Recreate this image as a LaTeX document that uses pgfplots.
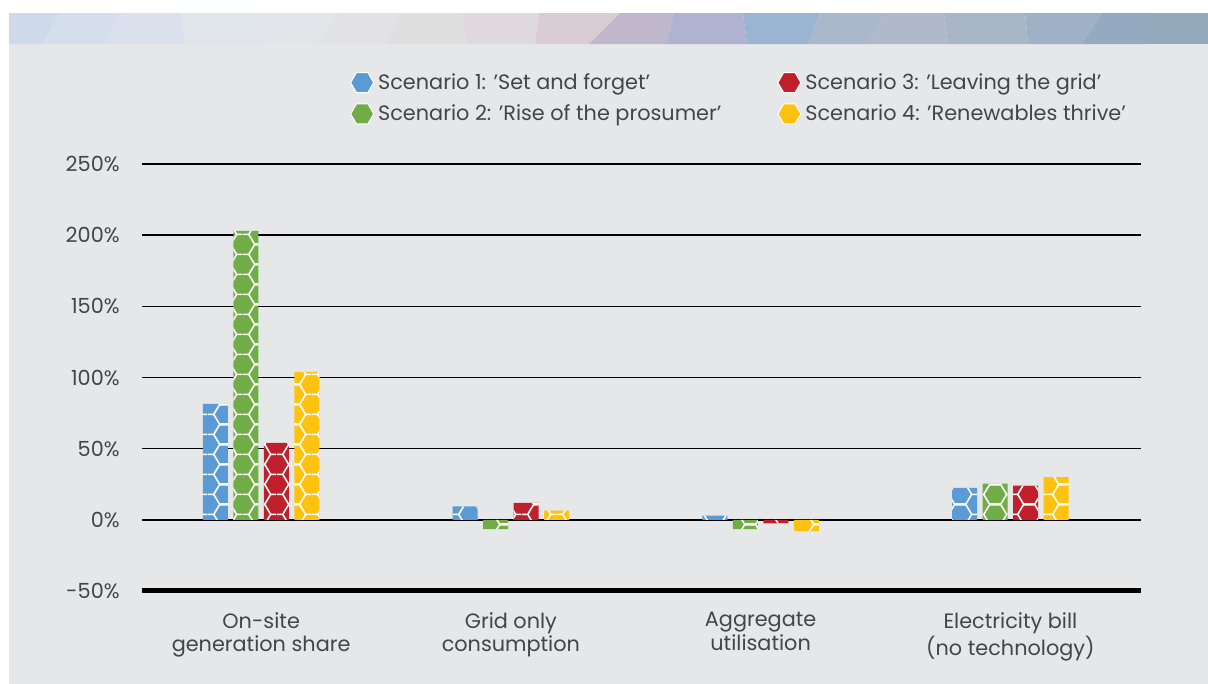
\documentclass[border=0pt]{standalone}
\usepackage{pgfplots}
\pgfplotsset{compat=1.18}
\usepackage{fontspec}
\setmainfont{Poppins}
\usetikzlibrary{patterns,shapes.geometric}
\definecolor{sOne}{HTML}{5B9BD5}
\definecolor{sTwo}{HTML}{70AD47}
\definecolor{sThree}{HTML}{C0202B}
\definecolor{sFour}{HTML}{FFC20E}
\definecolor{bggray}{HTML}{E6E7E9}
\definecolor{txt}{HTML}{454545}
\pgfdeclarepatternformonly{hexa}{\pgfpointorigin}{\pgfqpoint{17.4pt}{10.046pt}}{\pgfqpoint{17.4pt}{10.046pt}}{%
  \pgfsetlinewidth{0.8pt}%
  \pgfpathmoveto{\pgfqpoint{0pt}{5.023pt}}%
  \pgfpathlineto{\pgfqpoint{2.9pt}{5.023pt}}%
  \pgfpathlineto{\pgfqpoint{5.8pt}{0pt}}%
  \pgfpathlineto{\pgfqpoint{11.6pt}{0pt}}%
  \pgfpathlineto{\pgfqpoint{14.5pt}{5.023pt}}%
  \pgfpathlineto{\pgfqpoint{17.4pt}{5.023pt}}%
  \pgfpathmoveto{\pgfqpoint{2.9pt}{5.023pt}}%
  \pgfpathlineto{\pgfqpoint{5.8pt}{10.046pt}}%
  \pgfpathlineto{\pgfqpoint{11.6pt}{10.046pt}}%
  \pgfpathlineto{\pgfqpoint{14.5pt}{5.023pt}}%
  \pgfusepath{stroke}%
}
\newcommand{\hexleg}[1]{\addlegendimage{legend image code/.code={\path (0,0) (14bp,0); \node[regular polygon, regular polygon sides=6, fill=#1, draw=white, line width=0.5bp, minimum size=11.5bp, inner sep=0pt] at (5.75bp,0) {};}}}
\begin{document}
\begin{tikzpicture}
\useasboundingbox (0,0) rectangle (604bp,342bp);
\fill[white] (0,0) rectangle (604bp,342bp);
\begin{scope}[x=0.5bp,y=0.5bp]
\fill[bggray] (9,0) rectangle (1208,640);
\def\bt{640}\def\tp{671}
\fill[fill={rgb,255:red,206;green,217;blue,234}] (9,\bt) -- (42,\bt) -- (60,\tp) -- (9,\tp) -- cycle;
\fill[fill={rgb,255:red,213;green,222;blue,235}] (42,\bt) -- (104,\bt) -- (123,\tp) -- (60,\tp) -- cycle;
\fill[fill={rgb,255:red,219;green,225;blue,236}] (104,\bt) -- (185,\bt) -- (181,\tp) -- (123,\tp) -- cycle;
\fill[fill={rgb,255:red,224;green,228;blue,235}] (185,\bt) -- (266,\bt) -- (262,\tp) -- (181,\tp) -- cycle;
\fill[fill={rgb,255:red,227;green,229;blue,234}] (266,\bt) -- (316,\bt) -- (339,\tp) -- (262,\tp) -- cycle;
\fill[fill={rgb,255:red,226;green,226;blue,228}] (316,\bt) -- (385,\bt) -- (401,\tp) -- (339,\tp) -- cycle;
\fill[fill={rgb,255:red,224;green,223;blue,224}] (385,\bt) -- (466,\bt) -- (462,\tp) -- (401,\tp) -- cycle;
\fill[fill={rgb,255:red,223;green,217;blue,221}] (466,\bt) -- (535,\bt) -- (539,\tp) -- (462,\tp) -- cycle;
\fill[fill={rgb,255:red,217;green,204;blue,212}] (535,\bt) -- (589,\bt) -- (620,\tp) -- (539,\tp) -- cycle;
\fill[fill={rgb,255:red,193;green,183;blue,204}] (589,\bt) -- (666,\bt) -- (674,\tp) -- (620,\tp) -- cycle;
\fill[fill={rgb,255:red,176;green,178;blue,209}] (666,\bt) -- (747,\bt) -- (743,\tp) -- (674,\tp) -- cycle;
\fill[fill={rgb,255:red,154;green,181;blue,209}] (747,\bt) -- (809,\bt) -- (820,\tp) -- (743,\tp) -- cycle;
\fill[fill={rgb,255:red,171;green,184;blue,203}] (809,\bt) -- (867,\bt) -- (886,\tp) -- (820,\tp) -- cycle;
\fill[fill={rgb,255:red,175;green,185;blue,201}] (867,\bt) -- (948,\bt) -- (944,\tp) -- (886,\tp) -- cycle;
\fill[fill={rgb,255:red,169;green,182;blue,198}] (948,\bt) -- (1028,\bt) -- (1025,\tp) -- (944,\tp) -- cycle;
\fill[fill={rgb,255:red,158;green,177;blue,198}] (1028,\bt) -- (1082,\bt) -- (1102,\tp) -- (1025,\tp) -- cycle;
\fill[fill={rgb,255:red,148;green,170;blue,192}] (1082,\bt) -- (1148,\bt) -- (1148,\tp) -- (1102,\tp) -- cycle;
\fill[fill={rgb,255:red,149;green,169;blue,188}] (1148,\bt) -- (1208,\bt) -- (1208,\tp) -- (1148,\tp) -- cycle;
\end{scope}
\begin{axis}[
  at={(71bp,46.5bp)}, anchor=south west,
  scale only axis, width=499.5bp, height=213.5bp,
  xmin=-0.477, xmax=3.523, ymin=-50, ymax=250,
  ybar, bar width=0.1,
  axis line style={draw=none},
  ytick={-50,0,50,100,150,200,250},
  yticklabels={-50\%,0\%,50\%,100\%,150\%,200\%,250\%},
  xtick={0,1,2,3},
  xticklabels={On-site\\generation share, Grid only\\consumption, Aggregate\\utilisation, Electricity bill\\(no technology)},
  major tick length=0pt,
  tick style={draw=none},
  ymajorgrids, grid style={black, line width=0.75bp},
  yticklabel style={font=\fontsize{10.4bp}{12bp}\selectfont, text=txt, inner sep=0pt, xshift=-11bp},
  xticklabel style={font=\fontsize{10.4bp}{11.8bp}\selectfont, text=txt, inner sep=0pt, align=center, yshift=-10.5bp},
  legend columns=2,
  legend style={at={(axis description cs:0.196,1.223)}, anchor=north west, draw=none, fill=none,
     font=\fontsize{10.4bp}{12bp}\selectfont, text=txt, inner sep=0pt,
     /tikz/every even column/.append style={column sep=20bp},
     row sep=2.2bp},
  legend cell align=left,
  clip=false,
]
\addplot[bar shift=-0.183, fill=sOne, draw=none, postaction={pattern=hexa, pattern color=white}, forget plot]
  coordinates {(0,81.5) (1,9.5) (2,3) (3,22.5)};
\addplot[bar shift=-0.061, fill=sTwo, draw=none, postaction={pattern=hexa, pattern color=white}, forget plot]
  coordinates {(0,203) (1,-6.5) (2,-6.5) (3,25.5)};
\addplot[bar shift=0.061, fill=sThree, draw=none, postaction={pattern=hexa, pattern color=white}, forget plot]
  coordinates {(0,54) (1,12) (2,-2.5) (3,24)};
\addplot[bar shift=0.183, fill=sFour, draw=none, postaction={pattern=hexa, pattern color=white}, forget plot]
  coordinates {(0,104) (1,6.5) (2,-8) (3,30)};
\draw[black, line width=2.5bp] (rel axis cs:0,0) -- (rel axis cs:1,0);
\hexleg{sOne}
\addlegendentry{Scenario 1: 'Set and forget'}
\hexleg{sThree}
\addlegendentry{Scenario 3: 'Leaving the grid'}
\hexleg{sTwo}
\addlegendentry{Scenario 2: 'Rise of the prosumer'}
\hexleg{sFour}
\addlegendentry{Scenario 4: 'Renewables thrive'}
\end{axis}
\end{tikzpicture}
\end{document}
